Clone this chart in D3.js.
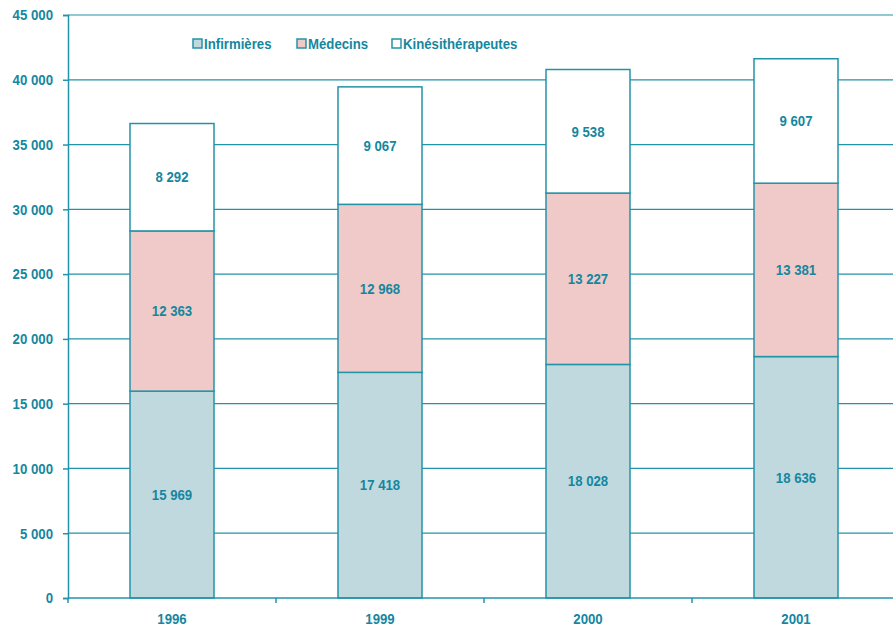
<!DOCTYPE html>
<html><head><meta charset="utf-8">
<script src="https://cdn.jsdelivr.net/npm/d3@7"></script>
<style>
body{margin:0;background:#fff;}
text{font-family:"Liberation Sans Narrow","Arial Narrow","Liberation Sans",Arial,sans-serif;font-weight:bold;fill:#14879f;}
</style></head><body>
<svg id="c" width="893" height="628"></svg>
<script>
const years = ["1996","1999","2000","2001"];
const infirmieres = [15969,17418,18028,18636];
const medecins = [12363,12968,13227,13381];
const kines = [8292,9067,9538,9607];
const seriesNames = ["Infirmières","Médecins","Kinésithérapeutes"];
const yTicks = [0,5000,10000,15000,20000,25000,30000,35000,40000,45000];

const colors = ["#c0d9df","#f0cac8","#ffffff"];
const line = "#2393a8";
const svg = d3.select("#c");
const x = d3.scaleBand().domain(years).range([68,900]).paddingInner(0).paddingOuter(0);
const y = d3.scaleLinear().domain([0,45000]).range([598,15]);
const fmt = v => d3.format(",")(v).replace(/,/g," ");

// gridlines
svg.append("g").selectAll("line").data(yTicks.filter(d=>d>0)).join("line")
  .attr("x1",68).attr("x2",893).attr("y1",d=>y(d)).attr("y2",d=>y(d))
  .attr("stroke",line).attr("stroke-width",1.2);

// y axis
const ya = svg.append("g").attr("transform","translate(68,0)")
  .call(d3.axisLeft(y).tickValues(yTicks).tickSize(5).tickPadding(10).tickFormat(fmt));
ya.select(".domain").attr("stroke",line).attr("stroke-width",1.5);
ya.selectAll(".tick line").attr("stroke",line).attr("stroke-width",1.5);
ya.selectAll("text").attr("font-size",15).style("fill","#14879f").attr("font-family",null);

// stacked data
const table = years.map((yr,i)=>({year:yr, a:infirmieres[i], b:medecins[i], c:kines[i]}));
const stack = d3.stack().keys(["a","b","c"])(table);
const bw = 84;
stack.forEach((s,si)=>{
  const g = svg.append("g");
  g.selectAll("rect").data(s).join("rect")
    .attr("x",d=>x(d.data.year)+x.bandwidth()/2-bw/2)
    .attr("width",bw)
    .attr("y",d=>y(d[1]))
    .attr("height",d=>y(d[0])-y(d[1]))
    .attr("fill",colors[si]).attr("stroke",line).attr("stroke-width",1.5);
  g.selectAll("text").data(s).join("text")
    .attr("x",d=>x(d.data.year)+x.bandwidth()/2)
    .attr("y",d=>(y(d[0])+y(d[1]))/2)
    .attr("dy","0.35em").attr("text-anchor","middle").attr("font-size",15)
    .text(d=>fmt(d[1]-d[0]));
});

// x axis
const xa = svg.append("g").attr("transform","translate(0,598)")
  .call(d3.axisBottom(x).tickSize(0).tickPadding(15));
xa.select(".domain").remove();
xa.append("line").attr("x1",68).attr("x2",893).attr("stroke",line).attr("stroke-width",1.5);
xa.selectAll(".bt").data(years).join("line").attr("class","bt")
  .attr("x1",d=>x(d)).attr("x2",d=>x(d)).attr("y1",0).attr("y2",5)
  .attr("stroke",line).attr("stroke-width",1.5);
xa.selectAll(".tick text").attr("font-size",15).style("fill","#14879f").attr("font-family",null);

// legend
const legX = [193,297,392];
const leg = svg.append("g");
seriesNames.forEach((n,i)=>{
  leg.append("rect").attr("x",legX[i]).attr("y",39).attr("width",9).attr("height",9)
    .attr("fill",colors[i]).attr("stroke",line).attr("stroke-width",1.5);
  leg.append("text").attr("x",legX[i]+11).attr("y",44).attr("dy","0.35em")
    .attr("font-size",15).text(n);
});

// condense all text (narrow font look)
svg.selectAll("text").each(function(){
  const w = this.getComputedTextLength();
  d3.select(this).attr("textLength", w*0.88).attr("lengthAdjust","spacingAndGlyphs");
});
</script></body></html>
